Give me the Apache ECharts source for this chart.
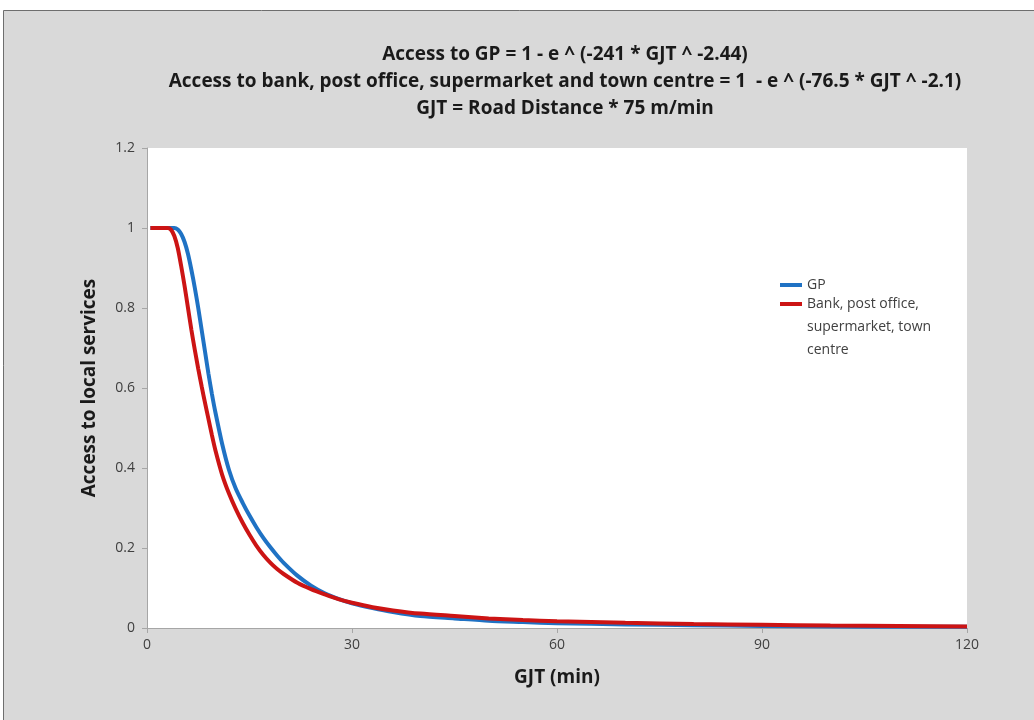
<!DOCTYPE html>
<html>
<head>
<meta charset="utf-8">
<style type="text/css">
	html, body{
		margin: 0;
		padding: 0;
		background-color: #fff;
	}
	#chart{
		width: 1034px;
		height: 720px;
	}
</style>
</head>
<body>
<div id="chart"></div>
<script src="https://cdn.jsdelivr.net/npm/echarts@6/dist/echarts.min.js"></script>
<script>
// GJT in minutes
var gjt = [0.5, 1, 2, 3, 3.5, 4, 4.5, 5, 5.5, 6, 6.5, 7, 7.5, 8, 8.5, 9, 9.5, 10, 11, 12, 13, 14, 15, 16, 17, 18, 19, 20, 22, 24, 26, 28, 30, 33, 36, 40, 45, 50, 55, 60, 70, 80, 90, 100, 110, 120];
// values
var gp = [1, 1, 1, 1, 1, 1, 0.996, 0.985, 0.965, 0.935, 0.895, 0.85, 0.80, 0.745, 0.69, 0.635, 0.585, 0.54, 0.46, 0.395, 0.348, 0.313, 0.281, 0.252, 0.226, 0.203, 0.182, 0.163, 0.131, 0.106, 0.087, 0.073, 0.062, 0.05, 0.04, 0.03, 0.024, 0.018, 0.015, 0.012, 0.009, 0.007, 0.005, 0.004, 0.003, 0.003];
var bank = [1, 1, 1, 1, 0.996, 0.98, 0.95, 0.905, 0.855, 0.80, 0.745, 0.695, 0.648, 0.604, 0.562, 0.522, 0.482, 0.445, 0.383, 0.336, 0.297, 0.263, 0.233, 0.206, 0.183, 0.164, 0.148, 0.135, 0.113, 0.097, 0.084, 0.072, 0.063, 0.052, 0.044, 0.036, 0.03, 0.024, 0.02, 0.017, 0.013, 0.01, 0.008, 0.006, 0.005, 0.004];
var titleLines = [
	'Access to GP = 1 - e ^ (-241 * GJT ^ -2.44)',
	'Access to bank, post office, supermarket and town centre = 1  - e ^ (-76.5 * GJT ^ -2.1)',
	'GJT = Road Distance * 75 m/min'
];
var seriesNames = ['GP', 'Bank, post office, supermarket, town centre'];

function pairs(xs, ys){
	var out = [];
	for(var i=0;i<xs.length;i++){
		out.push([xs[i], ys[i]]);
	}
	return out;
}

var font = '"Liberation Sans Narrow", "Open Sans", sans-serif';
var myChart = echarts.init(document.getElementById('chart'));
option = {
	animation: false,
	textStyle: {fontFamily: font},
	graphic: [{
		type: 'rect',
		z: -10,
		shape: {x: 3.5, y: 10.5, width: 1040, height: 720},
		style: {fill: '#d9d9d9', stroke: '#6e6e6e', lineWidth: 1}
	},{
		// rest of the wrapped legend label
		type: 'text',
		left: 807,
		top: 316,
		style: {
			text: 'supermarket, town\ncentre',
			font: '14px ' + font,
			fill: '#404040',
			lineHeight: 23
		}
	}],
	title: {
		text: titleLines.join('\n'),
		left: 560,
		textAlign: 'center',
		top: 36,
		textStyle: {
			fontFamily: font,
			fontSize: 19,
			fontWeight: 'bold',
			color: '#1a1a1a',
			lineHeight: 27
		}
	},
	legend: {
		orient: 'vertical',
		left: 775,
		top: 273,
		itemWidth: 22,
		itemHeight: 4,
		itemGap: 5,
		icon: 'rect',
		textStyle: {fontFamily: font, fontSize: 14, color: '#404040'},
		formatter: function(name){
			if(name == seriesNames[1]){
				return 'Bank, post office,';
			}
			return name;
		},
		data: seriesNames
	},
	grid: {
		left: 147,
		right: 67,
		top: 148,
		bottom: 92,
		show: true,
		backgroundColor: '#fff',
		borderWidth: 0
	},
	xAxis: {
		type: 'value',
		min: 0,
		max: 120,
		interval: 30,
		name: 'GJT (min)',
		nameLocation: 'middle',
		nameGap: 40,
		nameTextStyle: {fontFamily: font, fontSize: 19, fontWeight: 'bold', color: '#1a1a1a'},
		axisLine: {lineStyle: {color: '#a6a6a6', width: 1}},
		axisTick: {show: true, length: 5, lineStyle: {color: '#a6a6a6'}},
		axisLabel: {fontFamily: font, fontSize: 14, color: '#404040', margin: 10},
		splitLine: {show: false}
	},
	yAxis: {
		type: 'value',
		min: 0,
		max: 1.2,
		interval: 0.2,
		name: 'Access to local services',
		nameLocation: 'middle',
		nameGap: 48,
		nameTextStyle: {fontFamily: font, fontSize: 19, fontWeight: 'bold', color: '#1a1a1a'},
		axisLine: {show: true, lineStyle: {color: '#a6a6a6', width: 1}},
		axisTick: {show: true, length: 5, lineStyle: {color: '#a6a6a6'}},
		axisLabel: {
			fontFamily: font, fontSize: 14, color: '#404040', margin: 12,
			formatter: function(v){ return String(Math.round(v*10)/10); }
		},
		splitLine: {show: false}
	},
	series: [{
		name: seriesNames[0],
		type: 'line',
		data: pairs(gjt, gp),
		showSymbol: false,
		smooth: 0.25,
		lineStyle: {color: '#1f72c4', width: 4},
		itemStyle: {color: '#1f72c4'},
		z: 2
	},{
		name: seriesNames[1],
		type: 'line',
		data: pairs(gjt, bank),
		showSymbol: false,
		smooth: 0.25,
		lineStyle: {color: '#cc1414', width: 4},
		itemStyle: {color: '#cc1414'},
		z: 3
	}]
};
myChart.setOption(option);
</script>
</body>
</html>
